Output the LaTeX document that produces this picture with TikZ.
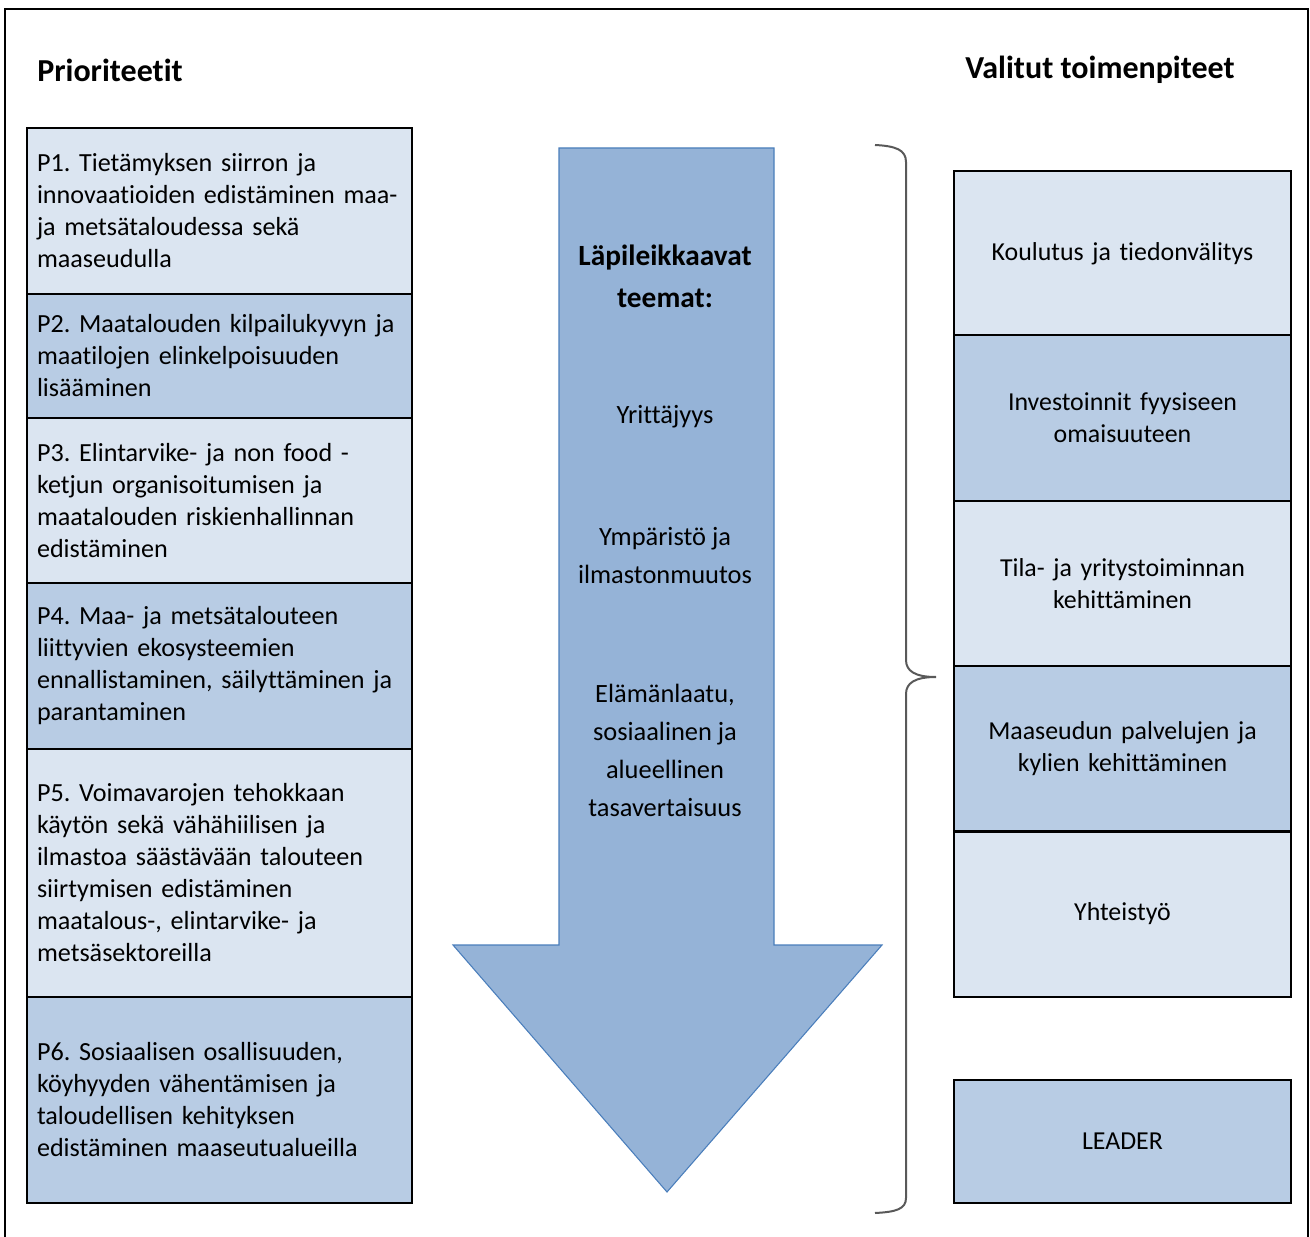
\documentclass[tikz,border=0pt]{standalone}
\usepackage{fontspec}
\setmainfont{Carlito}[Ligatures=CommonOff]
\frenchspacing
\definecolor{lightblue}{HTML}{DBE5F1}
\definecolor{midblue}{HTML}{B8CCE4}
\definecolor{arrowfill}{HTML}{95B3D7}
\definecolor{arrowline}{HTML}{4A7EBB}
\definecolor{bracegray}{HTML}{595959}
\tikzset{
  prio/.style={draw=black, line width=1.5pt, minimum width=288.75pt, text width=273.75pt,
    inner xsep=7.5pt, align=left, font=\fontsize{19.6}{24}\selectfont},
  toimi/.style={draw=black, line width=1.5pt, minimum width=252.75pt, minimum height=123.75pt,
    text width=240pt, align=center, font=\fontsize{19.4}{24}\selectfont},
  teema/.style={align=center, font=\fontsize{19.8}{28.5}\selectfont},
  otsikko/.style={anchor=west, inner sep=0pt, font=\fontsize{24}{28}\selectfont\bfseries}
}
\begin{document}
\begin{tikzpicture}[x=0.75pt,y=0.75pt,yscale=-1,xscale=1]
\useasboundingbox (0,0) rectangle (1310,1237);

%Outer frame (open at the bottom)
\draw [line width=1.5pt] (5,1245) -- (5,9) -- (1308,9) -- (1308,1245) ;

% Headings
\node [otsikko] (hprio) at (37,70) {Prioriteetit};
\node [otsikko] (htoimi) at (965,70) {Valitut toimenpiteet};

% Priorities
\node [prio, fill=lightblue, minimum height=124.5pt] (p1) at (219.5,211) {P1. Tietämyksen siirron ja\\ innovaatioiden edistäminen maa-\\ ja metsätaloudessa sekä\\ maaseudulla};
\node [prio, fill=midblue, minimum height=93pt] (p2) at (219.5,356) {P2. Maatalouden kilpailukyvyn ja\\ maatilojen elinkelpoisuuden\\ lisääminen};
\node [prio, fill=lightblue, minimum height=123.75pt] (p3) at (219.5,500.5) {P3. Elintarvike- ja non food -\\ ketjun organisoitumisen ja\\ maatalouden riskienhallinnan\\ edistäminen};
\node [prio, fill=midblue, minimum height=124.5pt] (p4) at (219.5,666) {P4. Maa- ja metsätalouteen\\ liittyvien ekosysteemien\\ ennallistaminen, säilyttäminen ja\\ parantaminen};
\node [prio, fill=lightblue, minimum height=186pt] (p5) at (219.5,873) {P5. Voimavarojen tehokkaan\\ käytön sekä vähähiilisen ja\\ ilmastoa säästävään talouteen\\ siirtymisen edistäminen\\ maatalous-, elintarvike- ja\\ metsäsektoreilla};
\node [prio, fill=midblue, minimum height=154.5pt] (p6) at (219.5,1100) {P6. Sosiaalisen osallisuuden,\\ köyhyyden vähentämisen ja\\ taloudellisen kehityksen\\ edistäminen maaseutualueilla};

% Big arrow
\draw [fill=arrowfill, draw=arrowline, line width=0.8pt, line join=miter]
  (559,148) -- (774,148) -- (774,945) -- (882,945) -- (667,1192) -- (453,945) -- (559,945) -- cycle ;

% Arrow texts
\node [teema, font=\fontsize{22}{31.5}\selectfont\bfseries] (tl) at (665,276) {Läpileikkaavat\\ teemat:};
\node [teema] (t1) at (665,417) {Yrittäjyys};
\node [teema] (t2) at (665,556) {Ympäristö ja\\ ilmastonmuutos};
\node [teema] (t3) at (665,750.5) {Elämänlaatu,\\ sosiaalinen ja\\ alueellinen\\ tasavertaisuus};

% Brace
\draw [bracegray, line width=1.5pt]
  (875,145) .. controls (896,146) and (906,150) .. (906,162)
  -- (906,660) .. controls (906,671) and (915,677) .. (936,677)
  .. controls (915,677) and (906,683) .. (906,694)
  -- (906,1198) .. controls (906,1209) and (896,1212) .. (875,1213) ;

% Measures
\node [toimi, fill=lightblue] (m1) at (1122.5,253.5) {Koulutus ja tiedonvälitys};
\node [toimi, fill=midblue] (m2) at (1122.5,418) {Investoinnit fyysiseen\\ omaisuuteen};
\node [toimi, fill=lightblue] (m3) at (1122.5,583.5) {Tila- ja yritystoiminnan\\ kehittäminen};
\node [toimi, fill=midblue] (m4) at (1122.5,748.5) {Maaseudun palvelujen ja\\ kylien kehittäminen};
\node [toimi, fill=lightblue] (m5) at (1122.5,914) {Yhteistyö};
\node [toimi, fill=midblue, minimum height=92.25pt] (leader) at (1122.5,1141.5) {LEADER};

\end{tikzpicture}
\end{document}
